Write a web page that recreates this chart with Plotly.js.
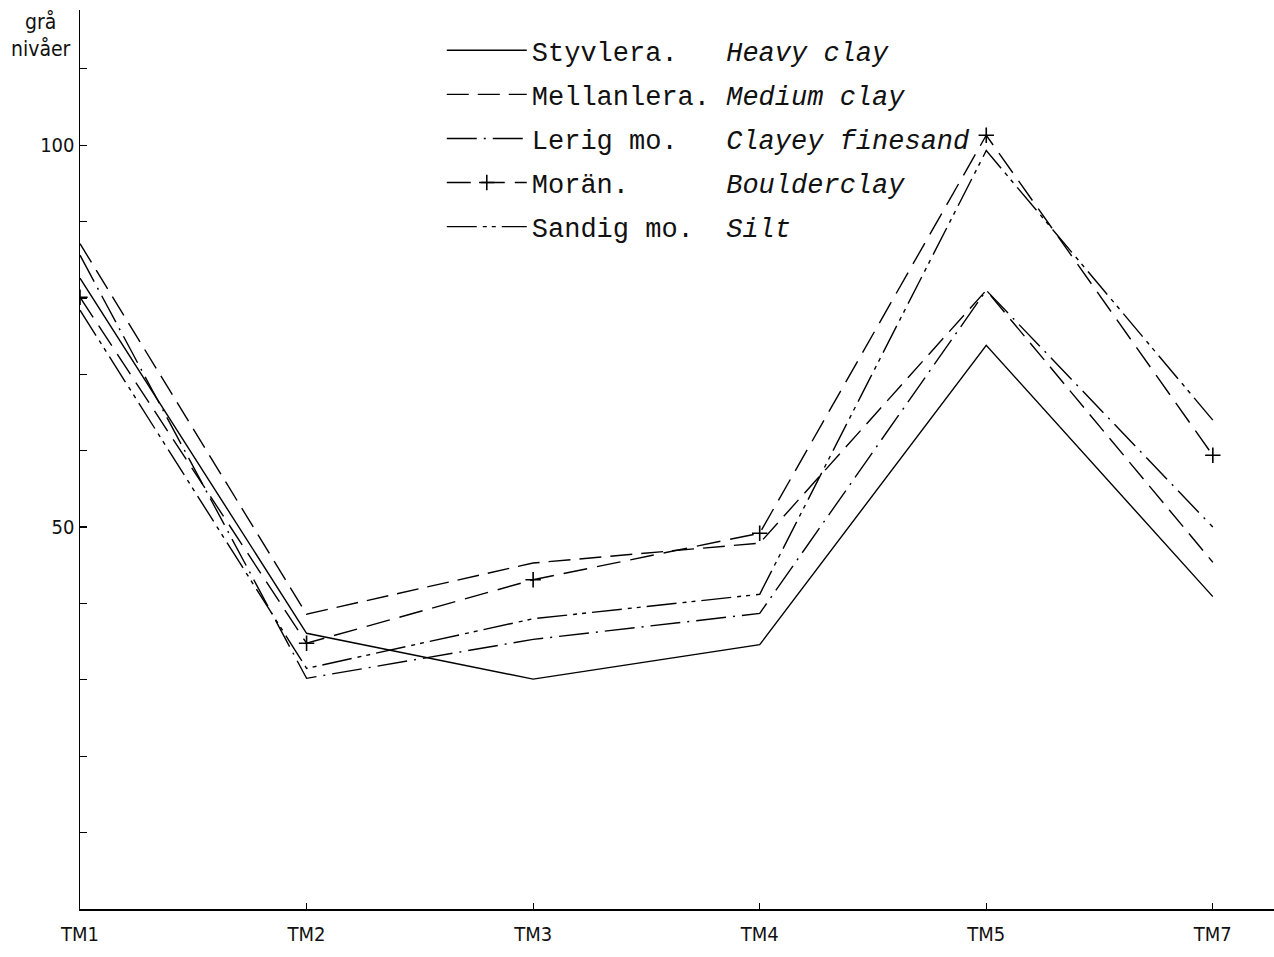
<!DOCTYPE html>
<html>
<head>
<meta charset="utf-8">
<script src="https://cdn.plot.ly/plotly-3.0.1.min.js"></script>
<style>
  html, body { margin: 0; padding: 0; background: #fff; }
  #chart { width: 1274px; height: 957px; }
</style>
</head>
<body>
<div id="chart"></div>
<script>
// Categories (x axis)
const categories = ["TM1", "TM2", "TM3", "TM4", "TM5", "TM7"];

// Series values (grå nivåer)
const styvlera   = [82.6, 36.1, 30.1, 34.6, 73.8, 40.9];
const mellanlera = [87.1, 38.6, 45.3, 47.9, 81.0, 45.4];
const lerigMo    = [85.6, 30.2, 35.3, 38.7, 81.0, 50.0];
const moran      = [80.1, 34.8, 43.1, 49.2, 101.3, 59.4];
const sandigMo   = [78.4, 31.5, 38.0, 41.2, 99.3, 64.0];

// Legend labels
const namesSv = ["Styvlera.", "Mellanlera.", "Lerig mo.", "Morän.", "Sandig mo."];
const namesEn = ["Heavy clay", "Medium clay", "Clayey finesand", "Boulderclay", "Silt"];

// Y tick labels
const yTickVals = [0, 10, 20, 30, 40, 50, 60, 70, 80, 90, 100, 110];
const yTickText = ["", "", "", "", "", "50", "", "", "", "", "100", ""];

const NB = "\u00A0";
function label(i) {
  const pad = 12 - namesSv[i].length;
  return namesSv[i] + NB.repeat(pad) + "<i>" + namesEn[i] + "</i>";
}

const lineW = 1.4;
const traces = [
  { y: styvlera,   dash: "solid" },
  { y: mellanlera, dash: "22px,9px" },
  { y: lerigMo,    dash: "30px,7px,2px,7px" },
  { y: moran,      dash: "24px,10px", marker: true },
  { y: sandigMo,   dash: "30px,6px,4px,5px,4px,6px" }
].map((t, i) => {
  const tr = {
    type: "scatter",
    x: categories,
    y: t.y,
    name: label(i),
    legendgroup: "g" + i,
    mode: t.marker ? "lines+markers" : "lines",
    line: { color: "#000", width: lineW, dash: t.dash },
    hoverinfo: "skip"
  };
  if (t.marker) {
    tr.marker = { symbol: "cross-thin", size: 11, color: "#000", line: { color: "#000", width: 1.6 } };
  }
  return tr;
});

const handFont = "Liberation Sans Narrow, DejaVu Sans Condensed, Liberation Sans, sans-serif";

const layout = {
  width: 1274,
  height: 957,
  margin: { l: 80, r: 0, t: 10, b: 48 },
  paper_bgcolor: "#fff",
  plot_bgcolor: "#fff",
  showlegend: true,
  legend: {
    x: 0.303, y: 0.982, xanchor: "left", yanchor: "top",
    bgcolor: "rgba(0,0,0,0)",
    font: { family: "Liberation Mono, DejaVu Sans Mono, monospace", size: 27, color: "#111" },
    traceorder: "grouped",
    tracegroupgap: 6,
    itemwidth: 80
  },
  xaxis: {
    type: "category",
    categoryarray: categories,
    range: [0, 5.27],
    autorange: false,
    showline: true,
    linecolor: "#000",
    linewidth: 1.5,
    showgrid: false,
    zeroline: false,
    ticks: "inside",
    ticklen: 6,
    tickwidth: 1.2,
    tickcolor: "#000",
    tickfont: { family: handFont, size: 20, color: "#111" },
    ticklabelstandoff: 6
  },
  yaxis: {
    range: [0, 117.7],
    autorange: false,
    showline: true,
    linecolor: "#000",
    linewidth: 1.5,
    showgrid: false,
    zeroline: false,
    tickmode: "array",
    tickvals: yTickVals,
    ticktext: yTickText,
    ticks: "inside",
    ticklen: 7,
    tickwidth: 1.2,
    tickcolor: "#000",
    tickfont: { family: handFont, size: 20, color: "#111" }
  },
  annotations: [
    {
      xref: "paper", yref: "paper",
      x: -0.033, y: 0.972,
      xanchor: "center", yanchor: "middle",
      text: "grå<br>nivåer",
      showarrow: false,
      font: { family: handFont, size: 21, color: "#111" }
    }
  ]
};

Plotly.newPlot("chart", traces, layout, { staticPlot: true, displayModeBar: false });
</script>
</body>
</html>
